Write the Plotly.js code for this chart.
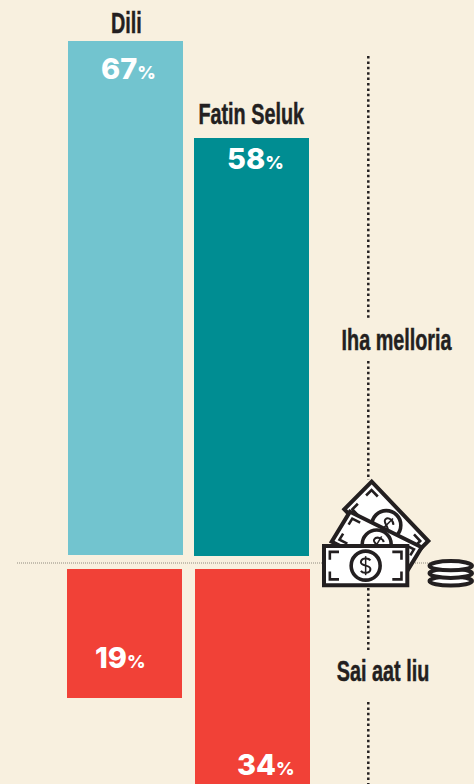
<!DOCTYPE html>
<html>
<head>
<meta charset="utf-8">
<script src="https://cdn.plot.ly/plotly-3.0.1.min.js"></script>
<style>
html,body{margin:0;padding:0;background:#f8f0df;overflow:hidden}
.annotation-text.condensed{transform-box:fill-box;transform-origin:center;transform:scaleX(.66);stroke:#231f20;stroke-width:.5px}
</style>
</head>
<body>
<div id="chart" style="width:474px;height:784px"></div>
<script>
const categories = ['Dili', 'Fatin Seluk'];
const improved = [67, 58];
const worse = [19, 34];
const sideLabels = ['Iha melloria', 'Sai aat liu'];

const W = 474, H = 784;
const BG = '#f8f0df', INK = '#231f20';
const P = (x, y) => (x / W).toFixed(5) + ',' + (1 - y / H).toFixed(5);

// each panel's zero line and scale
const rangeY = (zero, scale) => [(zero - H) / scale, zero / scale];
const rangeX = (zero, scale) => [-zero / scale, (W - zero) / scale];
const hidden = {visible: false, autorange: false, fixedrange: true, domain: [0, 1]};

const traces = [
  {type: 'bar', x: [0], y: [improved[0]], width: 115 / 126, xaxis: 'x', yaxis: 'y',
   marker: {color: '#72c4cf'}, hoverinfo: 'skip', showlegend: false},
  {type: 'bar', x: [1], y: [improved[1]], width: 115 / 126, xaxis: 'x', yaxis: 'y3',
   marker: {color: '#008d92'}, hoverinfo: 'skip', showlegend: false},
  {type: 'bar', x: [0, 1], y: worse.map(v => -v), width: 115 / 128, xaxis: 'x2', yaxis: 'y2',
   marker: {color: '#f14137'}, hoverinfo: 'skip', showlegend: false}
];

const shapes = [];
function vDots(x, y0, y1) {
  shapes.push({type: 'line', xref: 'paper', yref: 'paper', x0: x / W, x1: x / W, y0: 1 - y0 / H, y1: 1 - y1 / H,
    line: {color: INK, width: 2.5, dash: '2.5px,2.9px'}});
}
vDots(368.3, 56, 318);
vDots(368.3, 361, 480);
vDots(368.3, 588, 650);
vDots(368.3, 702, 784);
shapes.push({type: 'line', xref: 'paper', yref: 'paper', x0: 17 / W, x1: 430 / W, y0: 1 - 563 / H, y1: 1 - 563 / H,
  line: {color: '#8f8a7e', width: 1, dash: '1px,1px'}});

function path(d, fill, w) {
  shapes.push({type: 'path', xref: 'paper', yref: 'paper', path: d,
    fillcolor: fill || 'rgba(0,0,0,0)', line: {color: INK, width: w}});
}
function circle(cx, cy, r, w) {
  shapes.push({type: 'circle', xref: 'paper', yref: 'paper',
    x0: (cx - r) / W, x1: (cx + r) / W, y0: 1 - (cy + r) / H, y1: 1 - (cy - r) / H,
    fillcolor: '#ffffff', line: {color: INK, width: w}});
}
function bill(a, u, v) {
  const L = (s, t) => P(a[0] + s * u[0] + t * v[0], a[1] + s * u[1] + t * v[1]);
  path('M' + L(0, 0) + 'L' + L(1, 0) + 'L' + L(1, 1) + 'L' + L(0, 1) + 'Z', '#ffffff', 4);
  const ax = 0.11, ay = 0.2, ix = 0.07, iy = 0.15;
  [[ix, iy, 1, 1], [1 - ix, iy, -1, 1], [1 - ix, 1 - iy, -1, -1], [ix, 1 - iy, 1, -1]].forEach(c => {
    path('M' + L(c[0] + c[2] * ax, c[1]) + 'L' + L(c[0], c[1]) + 'L' + L(c[0], c[1] + c[3] * ay), null, 2.6);
  });
  const cx = a[0] + .5 * u[0] + .5 * v[0], cy = a[1] + .5 * u[1] + .5 * v[1];
  circle(cx, cy, 14.5, 3.6);
  const ul = Math.hypot(u[0], u[1]), vl = Math.hypot(v[0], v[1]);
  const Q = (x, y) => {
    const s = 9.5;
    return P(cx + s * (x * u[0] / ul + y * v[0] / vl), cy + s * (x * u[1] / ul + y * v[1] / vl));
  };
  path('M' + Q(.5, -.55) + 'C' + Q(.3, -.85) + ' ' + Q(-.5, -.85) + ' ' + Q(-.5, -.35) +
       'C' + Q(-.5, .1) + ' ' + Q(.5, -.1) + ' ' + Q(.5, .35) +
       'C' + Q(.5, .85) + ' ' + Q(-.3, .85) + ' ' + Q(-.5, .55), null, 2);
  path('M' + Q(0, -1) + 'L' + Q(0, 1), null, 1.5);
}
bill([371.7, 481.7], [56.6, 59.3], [-27.4, 27.6]);
bill([350, 511.7], [71.7, 35.6], [-18.3, 30]);
bill([324, 546], [83.3, 0], [0, 39.3]);
[581, 573.3, 565.7].forEach(cy => {
  shapes.push({type: 'circle', xref: 'paper', yref: 'paper',
    x0: 429.5 / W, x1: 472 / W, y0: 1 - (cy + 4.6) / H, y1: 1 - (cy - 4.6) / H,
    fillcolor: '#ffffff', line: {color: INK, width: 4}});
});

const nameFont = {family: '"Liberation Sans",sans-serif', size: 30, color: INK, weight: 700};
const pctFont = {family: 'Inter, sans-serif', size: 29, color: '#ffffff', weight: 800};
const note = (text, x, y, font, xanchor) => ({text, x: x / W, y: 1 - y / H, xref: 'paper', yref: 'paper',
  xanchor: xanchor || 'center', yanchor: 'middle', showarrow: false, font, borderpad: 0});
const bold = s => '<b>' + s + '</b>';
const pct = v => v + '<span style="font-size:18px">%</span>';

const annotations = [
  note(bold(categories[0]), 126.5, 23, nameFont),
  note(bold(categories[1]), 251, 113.5, nameFont),
  note(bold(sideLabels[0]), 396, 339.5, nameFont),
  note(bold(sideLabels[1]), 383, 670, nameFont),
  note(pct(improved[0]), 100, 68, pctFont, 'left'),
  note(pct(improved[1]), 226, 158, pctFont, 'left'),
  note(pct(worse[0]), 94, 657, pctFont, 'left'),
  note(pct(worse[1]), 236, 764, pctFont, 'left')
];

const layout = {
  width: W, height: H, margin: {l: 0, r: 0, t: 0, b: 0, pad: 0},
  paper_bgcolor: BG, plot_bgcolor: BG, showlegend: false, barmode: 'overlay',
  xaxis: Object.assign({}, hidden, {range: rangeX(125.5, 126), anchor: 'y'}),
  xaxis2: Object.assign({}, hidden, {range: rangeX(124.5, 128), overlaying: 'x', anchor: 'y2'}),
  yaxis: Object.assign({}, hidden, {range: rangeY(555, 514 / 67), anchor: 'x'}),
  yaxis2: Object.assign({}, hidden, {range: rangeY(569, 129 / 19), overlaying: 'y', anchor: 'x2'}),
  yaxis3: Object.assign({}, hidden, {range: rangeY(556, 418 / 58), overlaying: 'y', anchor: 'x'}),
  shapes, annotations
};
Plotly.newPlot('chart', traces, layout, {displayModeBar: false, responsive: false, staticPlot: true}).then(gd => {
  gd.querySelectorAll('.annotation-text').forEach((el, i) => { if (i < 4) el.classList.add('condensed'); });
});
</script>
</body>
</html>
